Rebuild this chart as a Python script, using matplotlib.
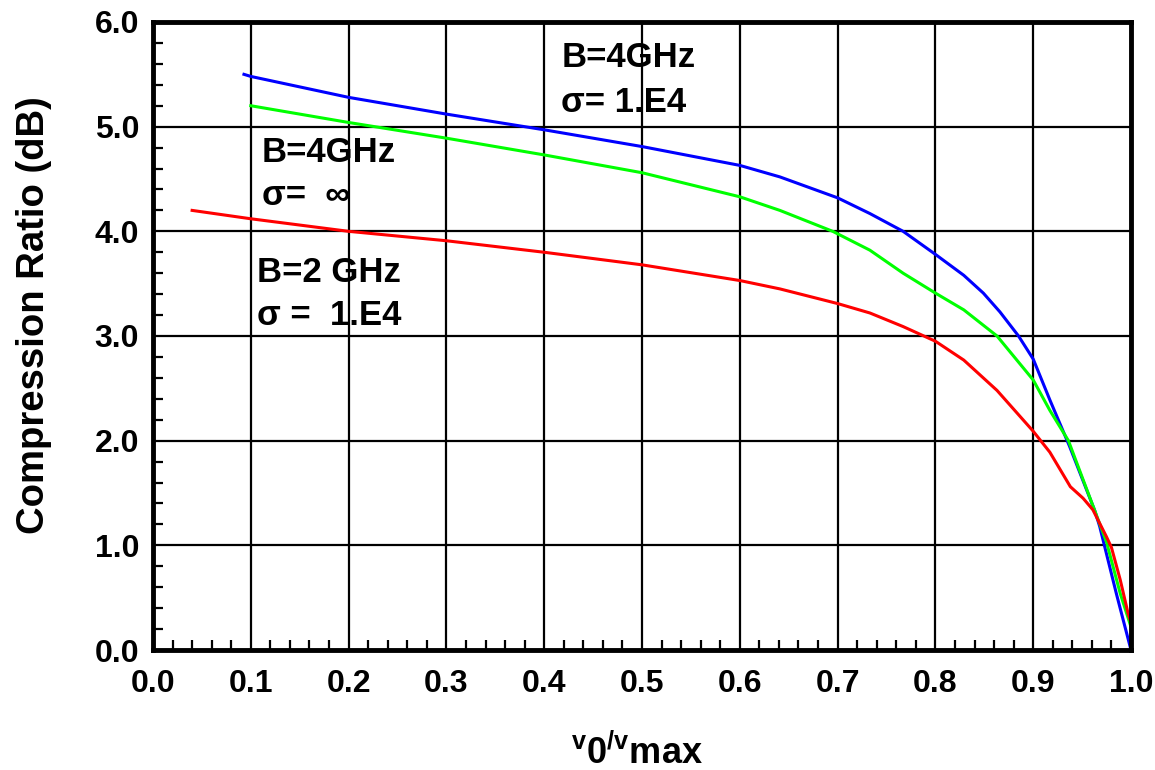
import matplotlib
matplotlib.use("Agg")
import matplotlib.pyplot as plt
from matplotlib.ticker import MultipleLocator, FormatStrFormatter

plt.rcParams['font.family'] = ['Liberation Sans', 'DejaVu Sans']
plt.rcParams['font.weight'] = 'bold'
plt.rcParams['mathtext.fontset'] = 'custom'
plt.rcParams['mathtext.bf'] = 'Liberation Sans:bold'
plt.rcParams['mathtext.rm'] = 'Liberation Sans:bold'

# B=4GHz, sigma=1.E4 (blue)
blue_x = [0.093, 0.1, 0.2, 0.3, 0.4, 0.5, 0.6, 0.641, 0.7, 0.733, 0.767, 0.8,
          0.829, 0.849, 0.866, 0.885, 0.9, 0.917, 0.937, 0.963, 0.968, 0.985, 1.0]
blue_y = [5.50, 5.48, 5.28, 5.12, 4.97, 4.81, 4.63, 4.52, 4.32, 4.17, 4.0, 3.78,
          3.58, 3.41, 3.23, 3.0, 2.78, 2.39, 1.95, 1.33, 1.18, 0.54, 0.0]

# B=4GHz, sigma=inf (green)
green_x = [0.1, 0.2, 0.3, 0.4, 0.5, 0.6, 0.641, 0.695, 0.733, 0.767, 0.8, 0.829,
           0.863, 0.9, 0.917, 0.936, 0.963, 0.975, 0.989, 1.0]
green_y = [5.20, 5.04, 4.89, 4.73, 4.56, 4.33, 4.20, 4.0, 3.82, 3.60, 3.41, 3.25,
           3.0, 2.58, 2.29, 2.0, 1.33, 1.03, 0.54, 0.22]

# B=2 GHz, sigma=1.E4 (red)
red_x = [0.04, 0.1, 0.2, 0.3, 0.4, 0.5, 0.6, 0.641, 0.7, 0.733, 0.767, 0.8,
         0.829, 0.863, 0.9, 0.917, 0.938, 0.951, 0.961, 0.975, 0.98, 0.989, 0.997, 1.0]
red_y = [4.20, 4.12, 4.00, 3.91, 3.80, 3.68, 3.53, 3.45, 3.31, 3.22, 3.09, 2.95,
         2.77, 2.48, 2.09, 1.89, 1.56, 1.45, 1.34, 1.08, 0.98, 0.67, 0.35, 0.26]

labels = [
    (0.418, 5.567, "B=4GHz"),
    (0.417, 5.143, "σ= 1.E4"),
    (0.111, 4.662, "B=4GHz"),
    (0.111, 4.25, "σ=  ∞"),
    (0.106, 3.519, "B=2 GHz"),
    (0.106, 3.105, "σ =  1.E4"),
]

fig = plt.figure(figsize=(11.55, 7.7), dpi=100)
ax = fig.add_axes([153 / 1155, 1 - 650 / 770, 978 / 1155, 628 / 770])

ax.plot(blue_x, blue_y, color='#0000ff', lw=2.2, zorder=4)
ax.plot(green_x, green_y, color='#00ff00', lw=2.2, zorder=4)
ax.plot(red_x, red_y, color='#ff0000', lw=2.2, zorder=4)

for x, y, s in labels:
    ax.text(x, y, s, fontsize=25, fontweight='bold', ha='left', va='baseline', zorder=1)

ax.set_xlim(0, 1.0)
ax.set_ylim(0, 6.0)
ax.xaxis.set_major_locator(MultipleLocator(0.1))
ax.xaxis.set_minor_locator(MultipleLocator(0.02))
ax.yaxis.set_major_locator(MultipleLocator(1.0))
ax.yaxis.set_minor_locator(MultipleLocator(0.2))
ax.xaxis.set_major_formatter(FormatStrFormatter('%.1f'))
ax.yaxis.set_major_formatter(FormatStrFormatter('%.1f'))

ax.grid(True, which='major', color='black', lw=1.6, zorder=2)
ax.tick_params(which='both', direction='in', top=False, right=False)
ax.tick_params(which='major', length=0, labelsize=23, pad=14)
ax.tick_params(axis='y', which='major', pad=10)
ax.tick_params(which='minor', length=7, width=1.6, color='black')
for sp in ax.spines.values():
    sp.set_linewidth(3.5)
    sp.set_zorder(5)

ax.set_ylabel("Compression Ratio (dB)", fontsize=27.5, fontweight='bold')
ax.yaxis.set_label_coords(-0.103, 0.533)
ax.set_xlabel(r"$\mathbf{^{v}0^{/v}max}$", fontsize=26)
ax.xaxis.set_label_coords(0.495, -0.135)

fig.savefig("out.png", dpi=100)
